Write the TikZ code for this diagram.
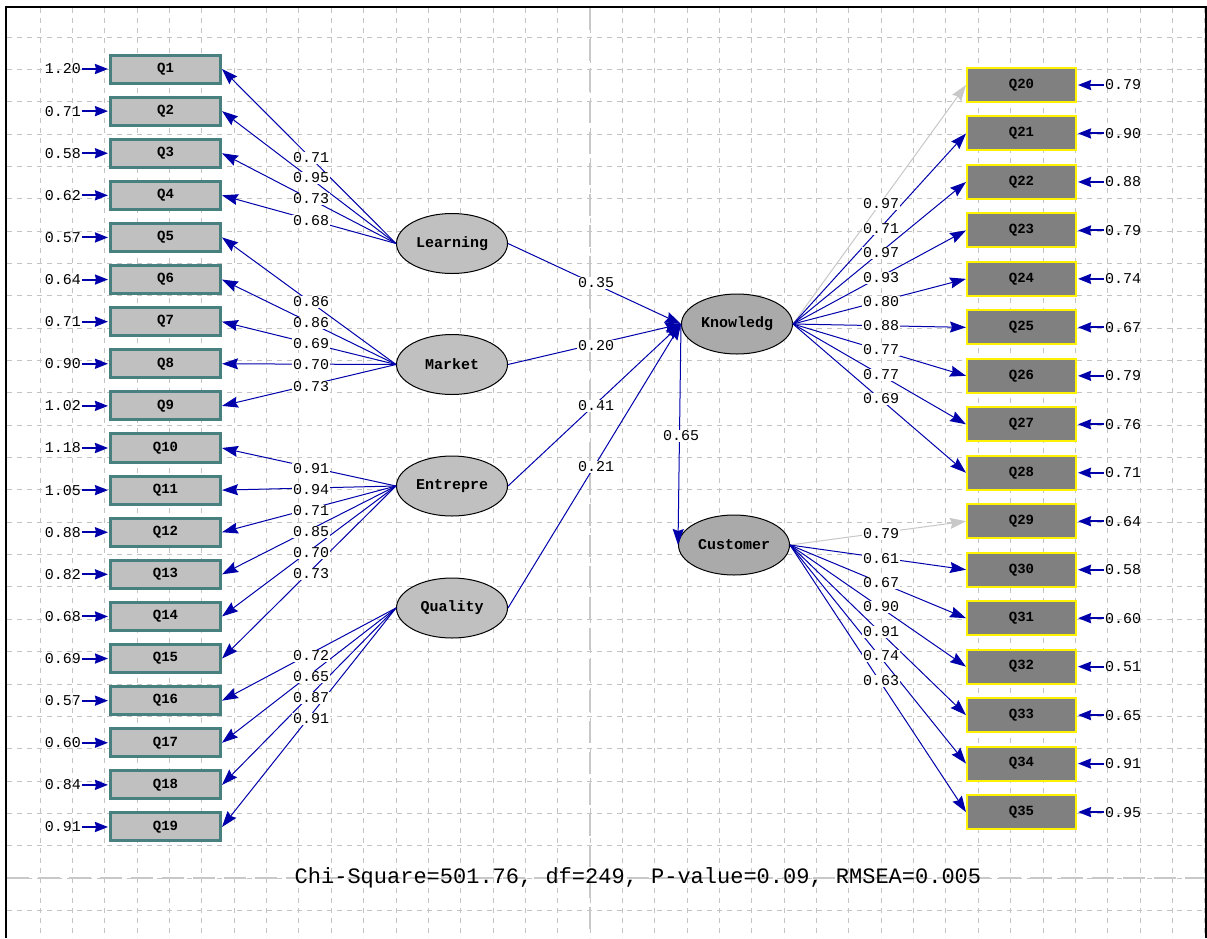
\documentclass[tikz,border=0pt]{standalone}
\usepackage{fontspec}
\newfontfamily\monof{Liberation Mono}
\usetikzlibrary{arrows.meta,shapes.geometric}
\definecolor{lblue}{RGB}{0,0,170}
\definecolor{fixgray}{RGB}{200,200,200}
\definecolor{gridgray}{RGB}{195,195,195}
\definecolor{axisgray}{RGB}{200,200,200}
\definecolor{boxteal}{RGB}{72,128,128}
\definecolor{boxfill}{RGB}{192,192,192}
\definecolor{rboxfill}{RGB}{128,128,128}
\definecolor{latfill}{RGB}{192,192,192}
\definecolor{endofill}{RGB}{170,170,170}
\begin{document}
\begin{tikzpicture}[x=1pt,y=-1pt,
  lbox/.style={draw=boxteal,line width=3pt,fill=boxfill,minimum width=110pt,minimum height=28pt,inner sep=0pt,font=\monof\bfseries\fontsize{14}{14}\selectfont},
  rbox/.style={draw=yellow,line width=2pt,fill=rboxfill,minimum width=109pt,minimum height=34pt,inner sep=0pt,font=\monof\bfseries\fontsize{14}{14}\selectfont},
  lat/.style={ellipse,draw=black,line width=1pt,fill=latfill,minimum width=111pt,minimum height=60pt,inner sep=0pt,font=\monof\bfseries\fontsize{15}{15}\selectfont},
  endo/.style={lat,fill=endofill},
  errlab/.style={inner sep=1pt,font=\monof\fontsize{15}{15}\selectfont},
  lab/.style={fill=white,inner sep=1pt,font=\monof\fontsize{15}{15}\selectfont},
  tip/.style={-{Stealth[length=16pt,width=11pt,inset=2pt]}},
  load/.style={tip,draw=lblue,line width=1pt},
  fixload/.style={tip,draw=fixgray,line width=1pt},
  erra/.style={-{Stealth[length=13pt,width=10pt,inset=1pt]},draw=lblue,line width=2pt,shorten >=1pt},
  gridl/.style={draw=gridgray,line width=0.8pt,dash pattern=on 5pt off 5pt},
  axisl/.style={draw=axisgray,line width=1.3pt,dash pattern=on 22pt off 9pt}
]
\useasboundingbox (0,0) rectangle (1207,938);
\fill[white] (0,0) rectangle (1207,938);
% grid
\foreach \k in {-17,...,19} { \draw[gridl] (590+32.35*\k,8) -- (590+32.35*\k,938); }
\foreach \k in {-1,...,26} { \draw[gridl] (7,878-32.35*\k) -- (1207,878-32.35*\k); }
\draw[axisl] (590,8) -- (590,938);
\draw[axisl] (7,878) -- (1207,878);
% frame
\draw[black,line width=2.5pt] (6,938) -- (6,7) -- (1207,7);
\draw[black,line width=1.5pt] (1206,7) -- (1206,938);

% latent variables
\node[lat] (L) at (452,243.5) {\makebox[0pt]{Learning}};
\node[lat] (M) at (452,364.5) {\makebox[0pt]{Market}};
\node[lat] (E) at (452,486) {\makebox[0pt]{Entrepre}};
\node[lat] (Qu) at (452,608) {\makebox[0pt]{Quality}};
\node[endo] (K) at (737,324) {\makebox[0pt]{Knowledg}};
\node[endo] (C) at (734,545) {\makebox[0pt]{Customer}};

% left indicators
\foreach \i/\v in {1/1.20,2/0.71,3/0.58,4/0.62,5/0.57,6/0.64,7/0.71,8/0.90,9/1.02,10/1.18,11/1.05,12/0.88,13/0.82,14/0.68,15/0.69,16/0.57,17/0.60,18/0.84,19/0.91}{
  \pgfmathsetmacro{\yy}{69+42.11*(\i-1)}
  \node[lbox] (q\i) at (165.5,\yy) {Q\i};
  \node[errlab] (e\i) at (63,\yy) {\v};
  \draw[erra] (e\i.east) -- (q\i.west);
}
% right indicators
\foreach \i/\v in {20/0.79,21/0.90,22/0.88,23/0.79,24/0.74,25/0.67,26/0.79,27/0.76,28/0.71,29/0.64,30/0.58,31/0.60,32/0.51,33/0.65,34/0.91,35/0.95}{
  \pgfmathsetmacro{\yy}{85+48.47*(\i-20)}
  \node[rbox] (q\i) at (1021.5,\yy) {Q\i};
  \node[errlab] (e\i) at (1123,\yy) {\v};
  \draw[erra] (e\i.west) -- (q\i.east);
}

% loadings
\foreach \i in {1,...,4} { \draw[load] (L.west) -- (q\i.east); }
\foreach \i in {5,...,9} { \draw[load] (M.west) -- (q\i.east); }
\foreach \i in {10,...,15} { \draw[load] (E.west) -- (q\i.east); }
\foreach \i in {16,...,19} { \draw[load] (Qu.west) -- (q\i.east); }
\draw[fixload] (K.east) -- (q20.west);
\foreach \i in {21,...,28} { \draw[load] (K.east) -- (q\i.west); }
\draw[fixload] (C.east) -- (q29.west);
\foreach \i in {30,...,35} { \draw[load] (C.east) -- (q\i.west); }

% structural paths
\draw[load] (L.east) -- (K.west);
\draw[load] (M.east) -- (K.west);
\draw[load] (E.east) -- (K.west);
\draw[load] (Qu.east) -- (K.west);
\draw[load] (K.west) -- (C.west);

% loading labels
\foreach \y/\v [count=\n] in {158/0.71,178/0.95,199/0.73,221/0.68,302/0.86,323/0.86,344/0.69,365/0.70,387/0.73,469/0.91,490/0.94,511/0.71,532/0.85,553/0.70,574/0.73,656/0.72,677/0.65,698/0.87,719/0.91}{
  \node[lab] (ll\n) at (311,\y) {\v};
}
\foreach \y/\v [count=\n] in {204/0.97,229/0.71,253/0.97,278/0.93,302/0.80,326/0.88,350/0.77,375/0.77,399/0.69,534/0.79,559/0.61,583/0.67,607/0.90,632/0.91,656/0.74,681/0.63}{
  \node[lab] (rl\n) at (881,\y) {\v};
}
\node[lab] (s1) at (596,283) {0.35};
\node[lab] (s2) at (596,346) {0.20};
\node[lab] (s3) at (596,406) {0.41};
\node[lab] (s4) at (596,467) {0.21};
\node[lab] (s5) at (681,436) {0.65};

% fit statistics
\node[inner sep=0pt,font=\monof\fontsize{22}{22}\selectfont] (fit) at (638,878) {Chi-Square=501.76, df=249, P-value=0.09, RMSEA=0.005};
\end{tikzpicture}
\end{document}
